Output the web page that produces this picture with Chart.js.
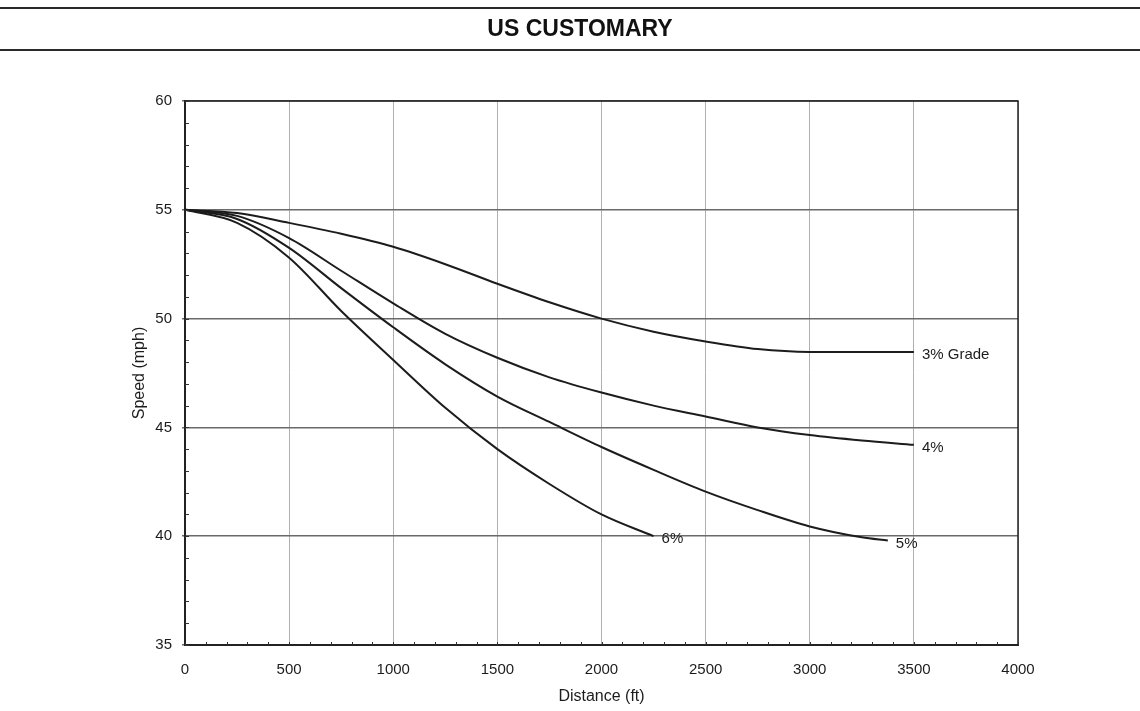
<!DOCTYPE html>
<html>
<head>
<meta charset="utf-8">
<script src="https://cdn.jsdelivr.net/npm/chart.js@4/dist/chart.umd.min.js"></script>
<style>
  html, body { margin: 0; padding: 0; background: #fff; }
  #wrap { width: 1140px; height: 711px; position: relative; }
</style>
</head>
<body>
<div id="wrap"><canvas id="c" width="1140" height="711"></canvas></div>
<script>
// ---- data ----
const title = "US CUSTOMARY";
const xTitle = "Distance (ft)";
const yTitle = "Speed (mph)";
const xTicks = [0, 500, 1000, 1500, 2000, 2500, 3000, 3500, 4000];
const yTicks = [35, 40, 45, 50, 55, 60];

const dist3 = [0, 250, 500, 750, 1000, 1250, 1500, 1750, 2000, 2250, 2500, 2750, 3000, 3250, 3500];
const speed3 = [55, 54.85, 54.4, 53.9, 53.3, 52.5, 51.6, 50.75, 50.0, 49.4, 48.95, 48.6, 48.47, 48.47, 48.47];

const dist4 = [0, 250, 500, 750, 1000, 1250, 1500, 1750, 2000, 2250, 2500, 2750, 3000, 3250, 3500];
const speed4 = [55, 54.72, 53.7, 52.2, 50.7, 49.3, 48.2, 47.3, 46.6, 46.0, 45.5, 45.0, 44.65, 44.4, 44.2];

const dist5 = [0, 250, 500, 750, 1000, 1250, 1500, 1750, 2000, 2250, 2500, 2750, 3000, 3250, 3375];
const speed5 = [55, 54.58, 53.25, 51.4, 49.6, 47.9, 46.42, 45.25, 44.1, 43.05, 42.05, 41.2, 40.45, 39.95, 39.8];

const dist6 = [0, 250, 500, 750, 1000, 1250, 1500, 1750, 2000, 2250];
const speed6 = [55, 54.4, 52.8, 50.35, 48.1, 45.9, 44.0, 42.4, 41.0, 40.0];

const seriesLabels = ["3% Grade", "4%", "5%", "6%"];

function pts(xs, ys) { return xs.map((x, i) => ({ x: x, y: ys[i] })); }

const FONT = "'Liberation Sans', Arial, sans-serif";
const INK = "#1c1c1c";

// title + rules, minor ticks, end-of-line labels
const extras = {
  id: 'extras',
  afterDraw(chart) {
    const ctx = chart.ctx;
    const xs = chart.scales.x, ys = chart.scales.y;
    const a = chart.chartArea;
    ctx.save();
    // title rules
    ctx.strokeStyle = "#2a2a2a";
    ctx.lineWidth = 2;
    ctx.beginPath();
    ctx.moveTo(0, 8); ctx.lineTo(chart.width, 8);
    ctx.moveTo(0, 50); ctx.lineTo(chart.width, 50);
    ctx.stroke();
    // title
    ctx.fillStyle = "#111";
    ctx.font = "bold 23px " + FONT;
    ctx.textAlign = "center";
    ctx.textBaseline = "middle";
    ctx.fillText(title, 580, 30);
    // minor ticks
    ctx.strokeStyle = "#333";
    ctx.lineWidth = 1;
    ctx.beginPath();
    for (let v = ys.min; v <= ys.max; v += 1) {
      const py = Math.round(ys.getPixelForValue(v)) + 0.5;
      ctx.moveTo(a.left, py); ctx.lineTo(a.left + 4, py);
    }
    for (let d = xs.min; d <= xs.max; d += 100) {
      const px = Math.round(xs.getPixelForValue(d)) + 0.5;
      ctx.moveTo(px, a.bottom); ctx.lineTo(px, a.bottom - 3);
    }
    ctx.stroke();
    // end labels
    ctx.fillStyle = INK;
    ctx.font = "15px " + FONT;
    ctx.textBaseline = "middle";
    ctx.textAlign = "left";
    chart.data.datasets.forEach((ds, i) => {
      const meta = chart.getDatasetMeta(i);
      const last = meta.data[meta.data.length - 1];
      ctx.fillText(seriesLabels[i], last.x + 8, last.y + 3);
    });
    ctx.restore();
  }
};

const mkDs = (data) => ({
  data: data,
  borderColor: INK,
  borderWidth: 2,
  pointRadius: 0,
  fill: false,
  cubicInterpolationMode: 'monotone'
});

new Chart(document.getElementById('c'), {
  type: 'line',
  data: {
    datasets: [
      mkDs(pts(dist3, speed3)),
      mkDs(pts(dist4, speed4)),
      mkDs(pts(dist5, speed5)),
      mkDs(pts(dist6, speed6))
    ]
  },
  options: {
    responsive: false,
    animation: false,
    layout: { padding: { left: 130, right: 122, top: 101, bottom: 0 } },
    plugins: {
      legend: { display: false },
      tooltip: { enabled: false },
      title: { display: false }
    },
    scales: {
      x: {
        type: 'linear',
        min: 0, max: 4000,
        afterBuildTicks: (s) => { s.ticks = xTicks.map(v => ({ value: v })); },
        afterFit: (s) => { s.height = 66; },
        ticks: { color: INK, font: { family: FONT, size: 15 }, padding: 16, callback: (v) => String(v) },
        grid: { color: "#b0b0b0", lineWidth: 1, drawTicks: false },
        border: { color: "#222", width: 2 },
        title: { display: true, text: xTitle, color: INK, font: { family: FONT, size: 16 }, padding: { top: 6, bottom: 5 } }
      },
      y: {
        type: 'linear',
        min: 35, max: 60,
        afterBuildTicks: (s) => { s.ticks = yTicks.map(v => ({ value: v })); },
        afterFit: (s) => { s.width = 55; },
        ticks: { color: INK, font: { family: FONT, size: 15 }, padding: 10, callback: (v) => String(v) },
        grid: { color: "#6a6a6a", lineWidth: 1.5, drawTicks: true, tickLength: 3 },
        border: { color: "#222", width: 2 },
        title: { display: true, text: yTitle, color: INK, font: { family: FONT, size: 16 }, padding: { top: 0, bottom: 0 } }
      }
    }
  },
  plugins: [extras, {
    id: 'frame',
    afterDatasetsDraw(chart) {
      const a = chart.chartArea, ctx = chart.ctx;
      ctx.save();
      ctx.strokeStyle = "#222";
      ctx.lineWidth = 1.5;
      ctx.beginPath();
      ctx.moveTo(a.left, a.top); ctx.lineTo(a.right, a.top); ctx.lineTo(a.right, a.bottom);
      ctx.stroke();
      ctx.restore();
    }
  }]
});
</script>
</body>
</html>
